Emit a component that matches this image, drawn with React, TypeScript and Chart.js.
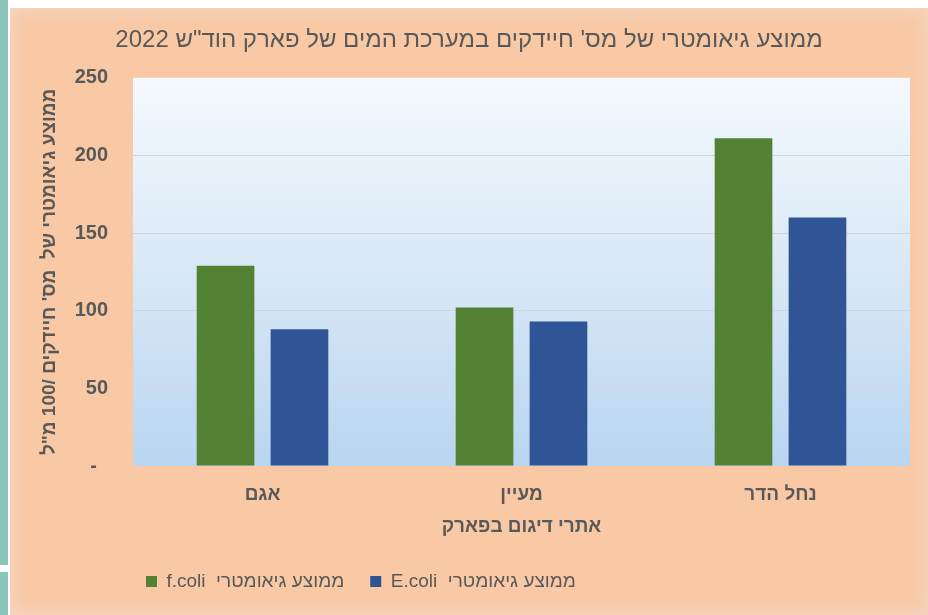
import React, { useEffect, useRef } from 'react';
import { Chart, registerables } from 'chart.js';

Chart.register(...registerables);

const categories = ['אגם', 'מעיין', 'נחל הדר'];
const fColiValues = [129, 102, 211];
const eColiValues = [88, 93, 160];
const seriesLabels = ['f.coli  ממוצע גיאומטרי', 'E.coli  ממוצע גיאומטרי'];
const seriesColors = ['#548235', '#2f5597'];
const yMin = 0;
const yMax = 250;
const yStep = 50;
const chartTitle = 'ממוצע גיאומטרי של מס\' חיידקים במערכת המים של פארק הוד"ש 2022';
const yAxisTitle = 'ממוצע גיאומטרי של  מס\' חיידקים /100 מ"ל';
const xAxisTitle = 'אתרי דיגום בפארק';

const FONT = "'Liberation Sans', Arial, sans-serif";
const TEXT = '#595959';

const plotBackground = {
  id: 'plotBackground',
  beforeDraw(chart: any) {
    const { ctx, chartArea } = chart;
    if (!chartArea) return;
    const g = ctx.createLinearGradient(0, chartArea.top, 0, chartArea.bottom);
    g.addColorStop(0, '#f4f9fe');
    g.addColorStop(0.5, '#d9e8f6');
    g.addColorStop(1, '#b9d5f0');
    ctx.save();
    ctx.fillStyle = g;
    ctx.fillRect(chartArea.left, chartArea.top, chartArea.right - chartArea.left, chartArea.bottom - chartArea.top);
    ctx.restore();
  },
};

const blockPlacement = {
  id: 'blockPlacement',
  afterLayout(chart: any) {
    const lg = chart.legend;
    if (lg) {
      lg.left = 110;
      lg.top = lg.top - 14;
    }
    const tb = chart.titleBlock;
    if (tb) {
      tb.left = 0;
      tb.right = chart.width;
    }
  },
};

export default function App() {
  const ref = useRef<HTMLCanvasElement>(null);
  useEffect(() => {
    if (!ref.current) return;
    const chart = new Chart(ref.current, {
      type: 'bar',
      data: {
        labels: categories,
        datasets: [
          {
            label: seriesLabels[0],
            data: fColiValues,
            backgroundColor: seriesColors[0],
            categoryPercentage: 0.571,
            barPercentage: 0.78,
          },
          {
            label: seriesLabels[1],
            data: eColiValues,
            backgroundColor: seriesColors[1],
            categoryPercentage: 0.571,
            barPercentage: 0.78,
          },
        ],
      },
      options: {
        animation: false,
        responsive: false,
        devicePixelRatio: 1,
        layout: { padding: { top: 8, right: 18, left: 0, bottom: 0 } },
        plugins: {
          title: {
            display: true,
            text: chartTitle,
            color: TEXT,
            font: { family: FONT, size: 24, weight: 'normal' },
            padding: { top: 10, bottom: 23 },
          },
          legend: {
            display: true,
            position: 'bottom',
            align: 'start',
            labels: {
              boxWidth: 11,
              boxHeight: 11,
              padding: 26,
              color: TEXT,
              font: { family: FONT, size: 19 },
            },
          },
          tooltip: { enabled: false },
        },
        scales: {
          x: {
            grid: { display: false, drawTicks: false },
            border: { display: false },
            ticks: {
              color: TEXT,
              font: { family: FONT, size: 19, weight: 'bold' },
              padding: 17,
            },
            title: {
              display: true,
              text: xAxisTitle,
              color: TEXT,
              font: { family: FONT, size: 19, weight: 'bold' },
              padding: { top: 4, bottom: 22 },
            },
            afterFit(s: any) {
              s.height = 94;
            },
          },
          y: {
            min: yMin,
            max: yMax,
            grid: {
              drawTicks: false,
              color: (c: any) => (c.tick && (c.tick.value === yMin || c.tick.value === yMax) ? 'rgba(0,0,0,0)' : '#d2d6dc'),
            },
            border: { display: false },
            ticks: {
              stepSize: yStep,
              color: TEXT,
              font: { family: FONT, size: 20, weight: 'bold' },
              padding: 25,
              callback: (v: any) => (v === 0 ? '-  ' : String(v)),
            },
            title: {
              display: true,
              text: yAxisTitle,
              color: TEXT,
              font: { family: FONT, size: 19, weight: 'bold' },
              padding: { top: 28, bottom: 0 },
            },
            afterFit(s: any) {
              s.width = 123;
            },
          },
        },
      },
      plugins: [plotBackground, blockPlacement],
    } as any);
    return () => chart.destroy();
  }, []);

  return (
    <div style={{ position: 'fixed', left: 0, top: 0, width: 928, height: 615, background: '#ffffff', overflow: 'hidden' }}>
      <div style={{ position: 'absolute', left: 0, top: 0, width: 8, height: 615, background: '#8cc5ba' }} />
      <div style={{ position: 'absolute', left: 0, top: 565, width: 8, height: 7, background: '#ffffff' }} />
      <div
        style={{
          position: 'absolute',
          left: 10,
          top: 8,
          width: 918,
          height: 607,
          background: '#f9c9a5',
          boxShadow: 'inset 0 0 16px 4px rgba(245, 215, 200, 0.8)',
        }}
      >
        <canvas ref={ref} width={918} height={607} style={{ display: 'block', width: 918, height: 607 }} />
      </div>
    </div>
  );
}
